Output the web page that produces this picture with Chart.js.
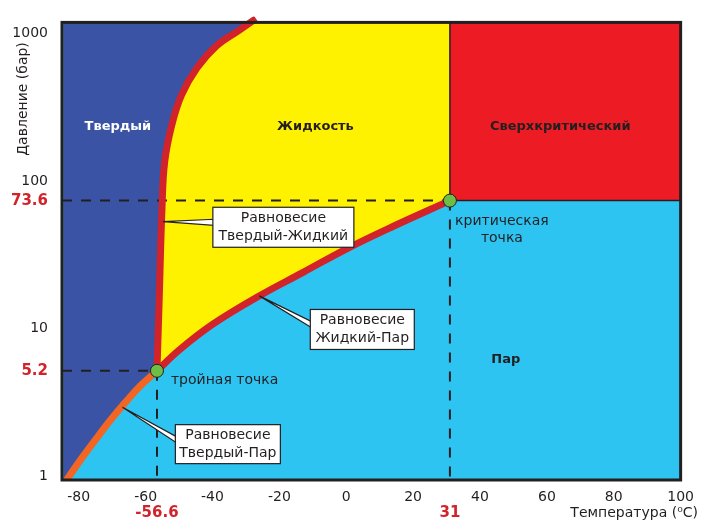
<!DOCTYPE html>
<html>
<head>
<meta charset="utf-8">
<script src="https://cdn.jsdelivr.net/npm/chart.js@4.4.0/dist/chart.umd.min.js"></script>
<style>
  html, body { margin: 0; padding: 0; background: #fff; }
</style>
</head>
<body>
<canvas id="phase-chart" width="703" height="522"></canvas>
<script>
// Фазовая диаграмма CO2
const xTicks = [-80, -60, -40, -20, 0, 20, 40, 60, 80, 100];
const yTicks = [1, 10, 100, 1000];
const xRange = [-85, 100];
const yRange = [0.95, 1180];

// тройная и критическая точки
const keyT = [-56.6, 31];
const keyP = [5.2, 73.6];

// кривая сублимации (Твердый-Пар)
const sublimT = [-84.6, -80.1, -75.3, -70.6, -65.8, -61.4, -56.6];
const sublimP = [0.88, 1.24, 1.74, 2.40, 3.23, 4.15, 5.2];

// кривая кипения (Жидкий-Пар)
const vaporT = [-56.6, -49.9, -40.0, -26.6, -12.9, 0.7, 14.1, 31];
const vaporP = [5.2, 7.2, 10.7, 16.4, 24.1, 35.3, 49.4, 73.6];

// кривая плавления (Твердый-Жидкий)
const meltT = [-56.6, -56.0, -55.1, -54.3, -52.2, -49.3, -44.6, -38.8, -32.4, -27];
const meltP = [5.2, 14.1, 65.2, 134, 237, 379, 582, 819, 1030, 1250];

const dark = '#231F20';
const red = '#D2232A';
const family = 'DejaVu Sans';
const tension = 0.4;

const pts = (xs, ys) => xs.map((v, i) => ({ x: v, y: ys[i] }));

// подписи и выноски поверх графика
const phaseLabels = {
    id: 'phaseLabels',
    afterDatasetsDraw(chart) {
        const { ctx, chartArea: a, scales } = chart;
        const X = v => scales.x.getPixelForValue(v);
        const Y = v => scales.y.getPixelForValue(v);
        ctx.save();

        // рамка
        ctx.strokeStyle = dark;
        ctx.lineWidth = 3;
        ctx.strokeRect(a.left, a.top, a.right - a.left, a.bottom - a.top);

        // названия фаз
        ctx.font = 'bold 13px "' + family + '"';
        ctx.textAlign = 'center';
        ctx.textBaseline = 'middle';
        [
            ['Твердый', -68.3, 234, '#ffffff'],
            ['Жидкость', -9.2, 234, dark],
            ['Сверхкритический', 64, 234, dark],
            ['Пар', 47.7, 6.15, dark]
        ].forEach(r => {
            ctx.fillStyle = r[3];
            ctx.fillText(r[0], X(r[1]), Y(r[2]));
        });

        // тройная и критическая точки
        ctx.font = '14px "' + family + '"';
        ctx.fillStyle = dark;
        ctx.textAlign = 'left';
        ctx.fillText('тройная точка', X(keyT[0]) + 14, Y(keyP[0]) + 10);
        ctx.textAlign = 'center';
        ctx.fillText('критическая', X(keyT[1]) + 52, Y(keyP[1]) + 21);
        ctx.fillText('точка', X(keyT[1]) + 52, Y(keyP[1]) + 38);

        // выноски
        const callouts = [
            { lines: ['Равновесие', 'Твердый-Жидкий'], at: [-54.8, 53], box: [-18.8, 48.6], w: 141, h: 40 },
            { lines: ['Равновесие', 'Жидкий-Пар'], at: [-26.0, 16.7], box: [4.8, 9.9], w: 104, h: 40 },
            { lines: ['Равновесие', 'Твердый-Пар'], at: [-66.9, 2.95], box: [-35.4, 1.66], w: 105, h: 39 }
        ];
        ctx.lineWidth = 1.2;
        callouts.forEach(c => {
            const cx = X(c.box[0]), cy = Y(c.box[1]);
            const left = cx - c.w / 2, top = cy - c.h / 2;
            ctx.fillStyle = '#ffffff';
            ctx.strokeStyle = dark;
            ctx.beginPath();
            ctx.moveTo(X(c.at[0]), Y(c.at[1]));
            ctx.lineTo(left + 1, top + 12);
            ctx.lineTo(left + 1, top + 18);
            ctx.closePath();
            ctx.fill();
            ctx.stroke();
            ctx.fillRect(left, top, c.w, c.h);
            ctx.strokeRect(left, top, c.w, c.h);
            ctx.fillStyle = dark;
            ctx.fillText(c.lines[0], cx, cy - 9);
            ctx.fillText(c.lines[1], cx, cy + 9);
        });

        // заголовки осей
        ctx.textAlign = 'right';
        ctx.fillText('Температура (⁰C)', 698, 513);
        ctx.translate(23, 99);
        ctx.rotate(-Math.PI / 2);
        ctx.textAlign = 'center';
        ctx.fillText('Давление (бар)', 0, 0);
        ctx.restore();
    }
};

const fillOnly = { borderWidth: 0, pointRadius: 0 };
const dashed = { borderColor: dark, borderWidth: 2, borderDash: [10, 9], pointRadius: 0, fill: false, tension: 0, order: 5 };
const curve = { borderWidth: 7, pointRadius: 0, fill: false, tension: tension, order: 3 };

// граница твердой фазы: сублимация + плавление (тройная точка повторена, чтобы сохранить излом)
const solidT = sublimT.concat(meltT);
const solidP = sublimP.concat(meltP);

new Chart(document.getElementById('phase-chart'), {
    type: 'line',
    data: {
        datasets: [
            // области
            { ...fillOnly, data: pts(xRange, [yRange[0], yRange[0]]), fill: 'end', backgroundColor: '#2DC4F2', tension: 0, order: 10 },
            { ...fillOnly, data: pts(vaporT, vaporP), fill: 'end', backgroundColor: '#FFF200', tension: tension, order: 9 },
            {
                data: pts([keyT[1], keyT[1], xRange[1]], [yRange[1], keyP[1], keyP[1]]),
                fill: 'end', backgroundColor: '#ED1C24', borderColor: dark, borderWidth: 1.5,
                pointRadius: 0, tension: 0, order: 8
            },
            { ...fillOnly, data: pts(solidT, solidP), fill: 'end', backgroundColor: '#3A53A4', tension: tension, order: 7 },
            // пунктир
            { ...dashed, data: pts([xRange[0], keyT[1]], [keyP[1], keyP[1]]) },
            { ...dashed, data: pts([keyT[1], keyT[1]], [keyP[1], yRange[0]]) },
            { ...dashed, data: pts([xRange[0], keyT[0]], [keyP[0], keyP[0]]) },
            { ...dashed, data: pts([keyT[0], keyT[0]], [keyP[0], yRange[0]]) },
            // кривые равновесия
            { ...curve, data: pts(sublimT, sublimP), borderColor: '#F26522' },
            { ...curve, data: pts(vaporT, vaporP), borderColor: red },
            { ...curve, data: pts(meltT, meltP), borderColor: red, clip: { top: 6, left: 0, right: 0, bottom: 0 } },
            // точки
            {
                data: pts(keyT, keyP), showLine: false, pointRadius: 6.5,
                pointBackgroundColor: '#6DBE45', pointBorderColor: dark, pointBorderWidth: 1, order: 1
            }
        ]
    },
    options: {
        responsive: false,
        animation: false,
        elements: { line: { capBezierPoints: false } },
        layout: { padding: { top: 18, right: 19, left: 0, bottom: 0 } },
        plugins: { legend: { display: false }, tooltip: { enabled: false } },
        scales: {
            x: {
                type: 'linear', position: 'bottom', weight: 0,
                min: xRange[0], max: xRange[1],
                grid: { display: false, drawTicks: false },
                border: { display: false },
                afterBuildTicks: s => { s.ticks = xTicks.map(v => ({ value: v })); },
                afterFit: s => { s.height = 22; },
                ticks: {
                    padding: 9, color: dark, maxRotation: 0, autoSkip: false,
                    font: { family: family, size: 14 },
                    callback: v => String(v)
                }
            },
            x2: {
                type: 'linear', position: 'bottom', weight: 1,
                min: xRange[0], max: xRange[1],
                grid: { display: false, drawTicks: false },
                border: { display: false },
                afterBuildTicks: s => { s.ticks = keyT.map(v => ({ value: v })); },
                afterFit: s => { s.height = 20; },
                ticks: {
                    padding: 2, color: red, maxRotation: 0, autoSkip: false,
                    font: { family: family, size: 15, weight: 'bold' },
                    callback: v => String(v)
                }
            },
            y: {
                type: 'logarithmic',
                min: yRange[0], max: yRange[1],
                grid: { display: false, drawTicks: false },
                border: { display: false },
                afterBuildTicks: s => {
                    s.ticks = yTicks.concat(keyP).sort((p, q) => p - q).map(v => ({ value: v }));
                },
                afterFit: s => { s.width = 62; },
                ticks: {
                    padding: 14, autoSkip: false,
                    color: c => keyP.includes(c.tick.value) ? red : dark,
                    font: c => keyP.includes(c.tick.value)
                        ? { family: family, size: 15, weight: 'bold' }
                        : { family: family, size: 14 },
                    callback: v => String(v)
                }
            }
        }
    },
    plugins: [phaseLabels]
});
</script>
</body>
</html>
